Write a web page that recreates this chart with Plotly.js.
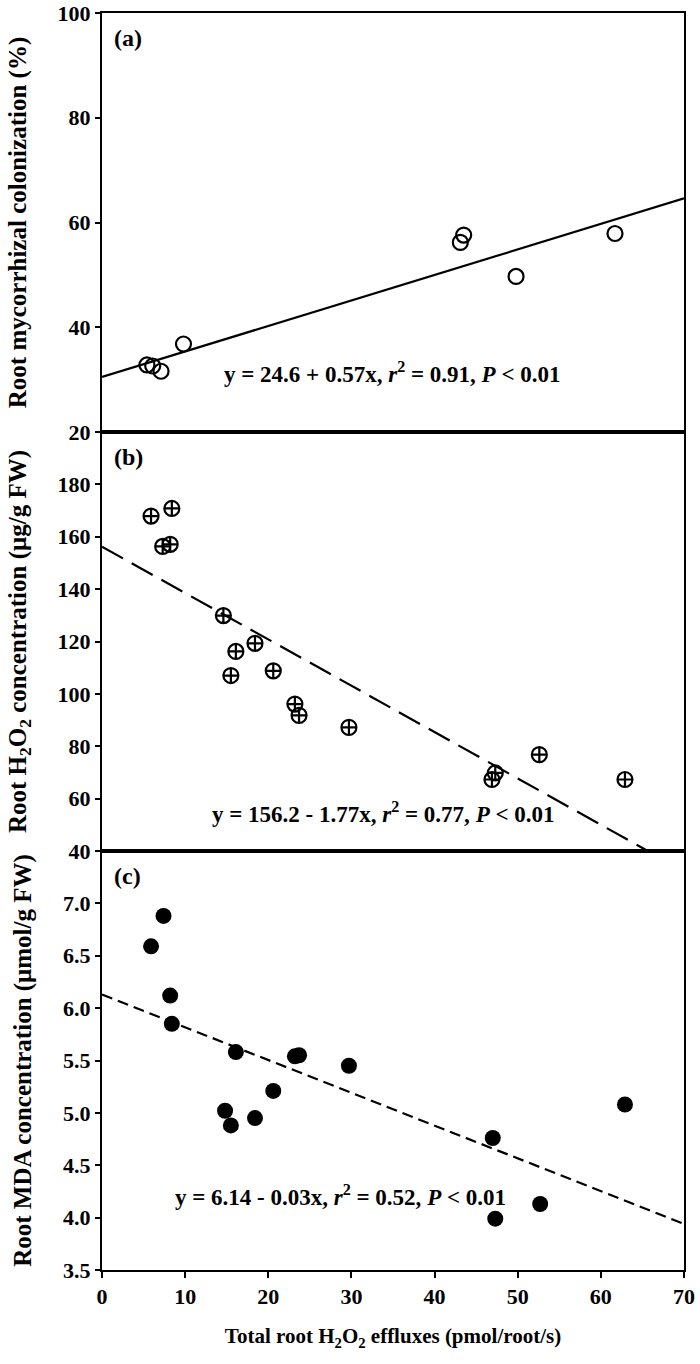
<!DOCTYPE html>
<html>
<head>
<meta charset="utf-8">
<script src="https://cdn.plot.ly/plotly-3.0.1.min.js"></script>
<style>
html,body{margin:0;padding:0;background:#fff;}
#chart{width:700px;height:1364px;}
</style>
</head>
<body>
<div id="chart"></div>
<script>
// Panel (a): root mycorrhizal colonization (%)
const xA = [5.4, 6.1, 7.1, 9.8, 43.1, 43.5, 49.8, 61.7];
const yA = [32.8, 32.6, 31.6, 36.8, 56.2, 57.6, 49.7, 57.9];
const fitAx = [0, 70];
const fitAy = [30.5, 64.6];

// Panel (b): root H2O2 concentration (µg/g FW)
const xB = [5.9, 7.3, 8.2, 8.4, 14.6, 15.5, 16.1, 18.4, 20.6, 23.2, 23.7, 29.7, 46.9, 47.3, 52.6, 62.9];
const yB = [167.9, 156.3, 157.1, 170.8, 129.9, 107.0, 116.2, 119.3, 108.8, 96.1, 91.8, 87.2, 67.3, 69.8, 76.8, 67.3];
const fitBx = [0, 65.6];
const fitBy = [156.2, 40.1];

// Panel (c): root MDA concentration (µmol/g FW)
const xC = [5.9, 7.4, 8.2, 8.4, 14.8, 15.5, 16.1, 18.4, 20.6, 23.2, 23.7, 29.7, 47.0, 47.3, 52.7, 62.9];
const yC = [6.59, 6.88, 6.12, 5.85, 5.02, 4.88, 5.58, 4.95, 5.21, 5.54, 5.55, 5.45, 4.76, 3.99, 4.13, 5.08];
const fitCx = [0, 70];
const fitCy = [6.13, 3.94];

const xTicks = [0, 10, 20, 30, 40, 50, 60, 70];
const yTicksA = [20, 40, 60, 80, 100];
const yTicksB = [40, 60, 80, 100, 120, 140, 160, 180];
const yTicksC = [3.5, 4.0, 4.5, 5.0, 5.5, 6.0, 6.5, 7.0];
const yTickTextC = ['3.5', '4.0', '4.5', '5.0', '5.5', '6.0', '6.5', '7.0'];

const eqA = 'y = 24.6 + 0.57x, <i>r</i><sup>2</sup> = 0.91, <i>P</i> &lt; 0.01';
const eqB = 'y = 156.2 - 1.77x, <i>r</i><sup>2</sup> = 0.77, <i>P</i> &lt; 0.01';
const eqC = 'y = 6.14 - 0.03x, <i>r</i><sup>2</sup> = 0.52, <i>P</i> &lt; 0.01';

const FONT = 'Liberation Serif, Times New Roman, serif';

const traces = [
  {x: fitAx, y: fitAy, xaxis: 'x', yaxis: 'y', mode: 'lines', line: {color: '#000', width: 2.2}, hoverinfo: 'skip'},
  {x: xA, y: yA, xaxis: 'x', yaxis: 'y', mode: 'markers',
   marker: {symbol: 'circle-open', size: 15, color: '#000', line: {width: 2.2, color: '#000'}}},
  {x: fitBx, y: fitBy, xaxis: 'x2', yaxis: 'y2', mode: 'lines', line: {color: '#000', width: 2.2, dash: '24px,10px'}, hoverinfo: 'skip'},
  {x: xB, y: yB, xaxis: 'x2', yaxis: 'y2', mode: 'markers',
   marker: {symbol: 'circle-cross-open', size: 15, color: '#000', line: {width: 2.2, color: '#000'}}},
  {x: fitCx, y: fitCy, xaxis: 'x3', yaxis: 'y3', mode: 'lines', line: {color: '#000', width: 2.2, dash: '11px,6px'}, hoverinfo: 'skip'},
  {x: xC, y: yC, xaxis: 'x3', yaxis: 'y3', mode: 'markers',
   marker: {symbol: 'circle', size: 16, color: '#000'}}
];

const baseX = {
  range: [0, 70], showgrid: false, zeroline: false, showline: true, linecolor: '#000', linewidth: 2, mirror: true,
  tickvals: xTicks, fixedrange: true
};
const baseY = {
  showgrid: false, zeroline: false, showline: true, linecolor: '#000', linewidth: 2, mirror: true,
  ticks: 'outside', ticklen: 5, tickwidth: 2, tickcolor: '#000', ticklabeloverflow: 'allow',
  tickfont: {family: FONT, size: 22, color: '#000', weight: 'bold'},
  title: {font: {family: FONT, size: 25, color: '#000', weight: 'bold'}, standoff: 24}
};

const layout = {
  width: 700, height: 1364,
  margin: {l: 102, r: 16, t: 13, b: 94},
  paper_bgcolor: '#fff', plot_bgcolor: '#fff',
  showlegend: false,
  font: {family: FONT, color: '#000'},
  xaxis: Object.assign({}, baseX, {anchor: 'y', showticklabels: false, ticks: ''}),
  xaxis2: Object.assign({}, baseX, {anchor: 'y2', showticklabels: false, ticks: '', matches: 'x'}),
  xaxis3: Object.assign({}, baseX, {anchor: 'y3', ticks: 'outside', ticklen: 6, tickwidth: 2, tickcolor: '#000',
    ticklabeloverflow: 'allow',
    tickfont: {family: FONT, size: 22, color: '#000', weight: 'bold'},
    title: {text: 'Total root H<sub>2</sub>O<sub>2</sub> effluxes (pmol/root/s)', font: {family: FONT, size: 21, color: '#000', weight: 'bold'}, standoff: 20}}),
  yaxis: Object.assign({}, baseY, {domain: [2/3, 1], range: [20, 100], tickvals: yTicksA,
    title: Object.assign({}, baseY.title, {text: 'Root mycorrhizal colonization (%)'})}),
  yaxis2: Object.assign({}, baseY, {domain: [1/3, 2/3], range: [40, 200], tickvals: yTicksB,
    title: Object.assign({}, baseY.title, {text: 'Root H<sub>2</sub>O<sub>2</sub> concentration (μg/g FW)'})}),
  yaxis3: Object.assign({}, baseY, {domain: [0, 1/3], range: [3.5, 7.5], tickvals: yTicksC, ticktext: yTickTextC,
    title: Object.assign({}, baseY.title, {text: 'Root MDA concentration (μmol/g FW)'})}),
  annotations: [
    {xref: 'x domain', yref: 'y domain', x: 0.017, y: 0.94, xanchor: 'left', yanchor: 'middle', showarrow: false,
     text: '(a)', font: {family: FONT, size: 24, color: '#000', weight: 'bold'}},
    {xref: 'x2 domain', yref: 'y2 domain', x: 0.017, y: 0.94, xanchor: 'left', yanchor: 'middle', showarrow: false,
     text: '(b)', font: {family: FONT, size: 24, color: '#000', weight: 'bold'}},
    {xref: 'x3 domain', yref: 'y3 domain', x: 0.017, y: 0.94, xanchor: 'left', yanchor: 'middle', showarrow: false,
     text: '(c)', font: {family: FONT, size: 24, color: '#000', weight: 'bold'}},
    {xref: 'x', yref: 'y', x: 14.4, y: 31.4, xanchor: 'left', yanchor: 'middle', showarrow: false,
     text: eqA, font: {family: FONT, size: 23, color: '#000', weight: 'bold'}},
    {xref: 'x2', yref: 'y2', x: 13.0, y: 54.6, xanchor: 'left', yanchor: 'middle', showarrow: false,
     text: eqB, font: {family: FONT, size: 23, color: '#000', weight: 'bold'}},
    {xref: 'x3', yref: 'y3', x: 8.5, y: 4.21, xanchor: 'left', yanchor: 'middle', showarrow: false,
     text: eqC, font: {family: FONT, size: 23, color: '#000', weight: 'bold'}}
  ]
};

Plotly.newPlot('chart', traces, layout, {displayModeBar: false, staticPlot: true});
</script>
</body>
</html>
